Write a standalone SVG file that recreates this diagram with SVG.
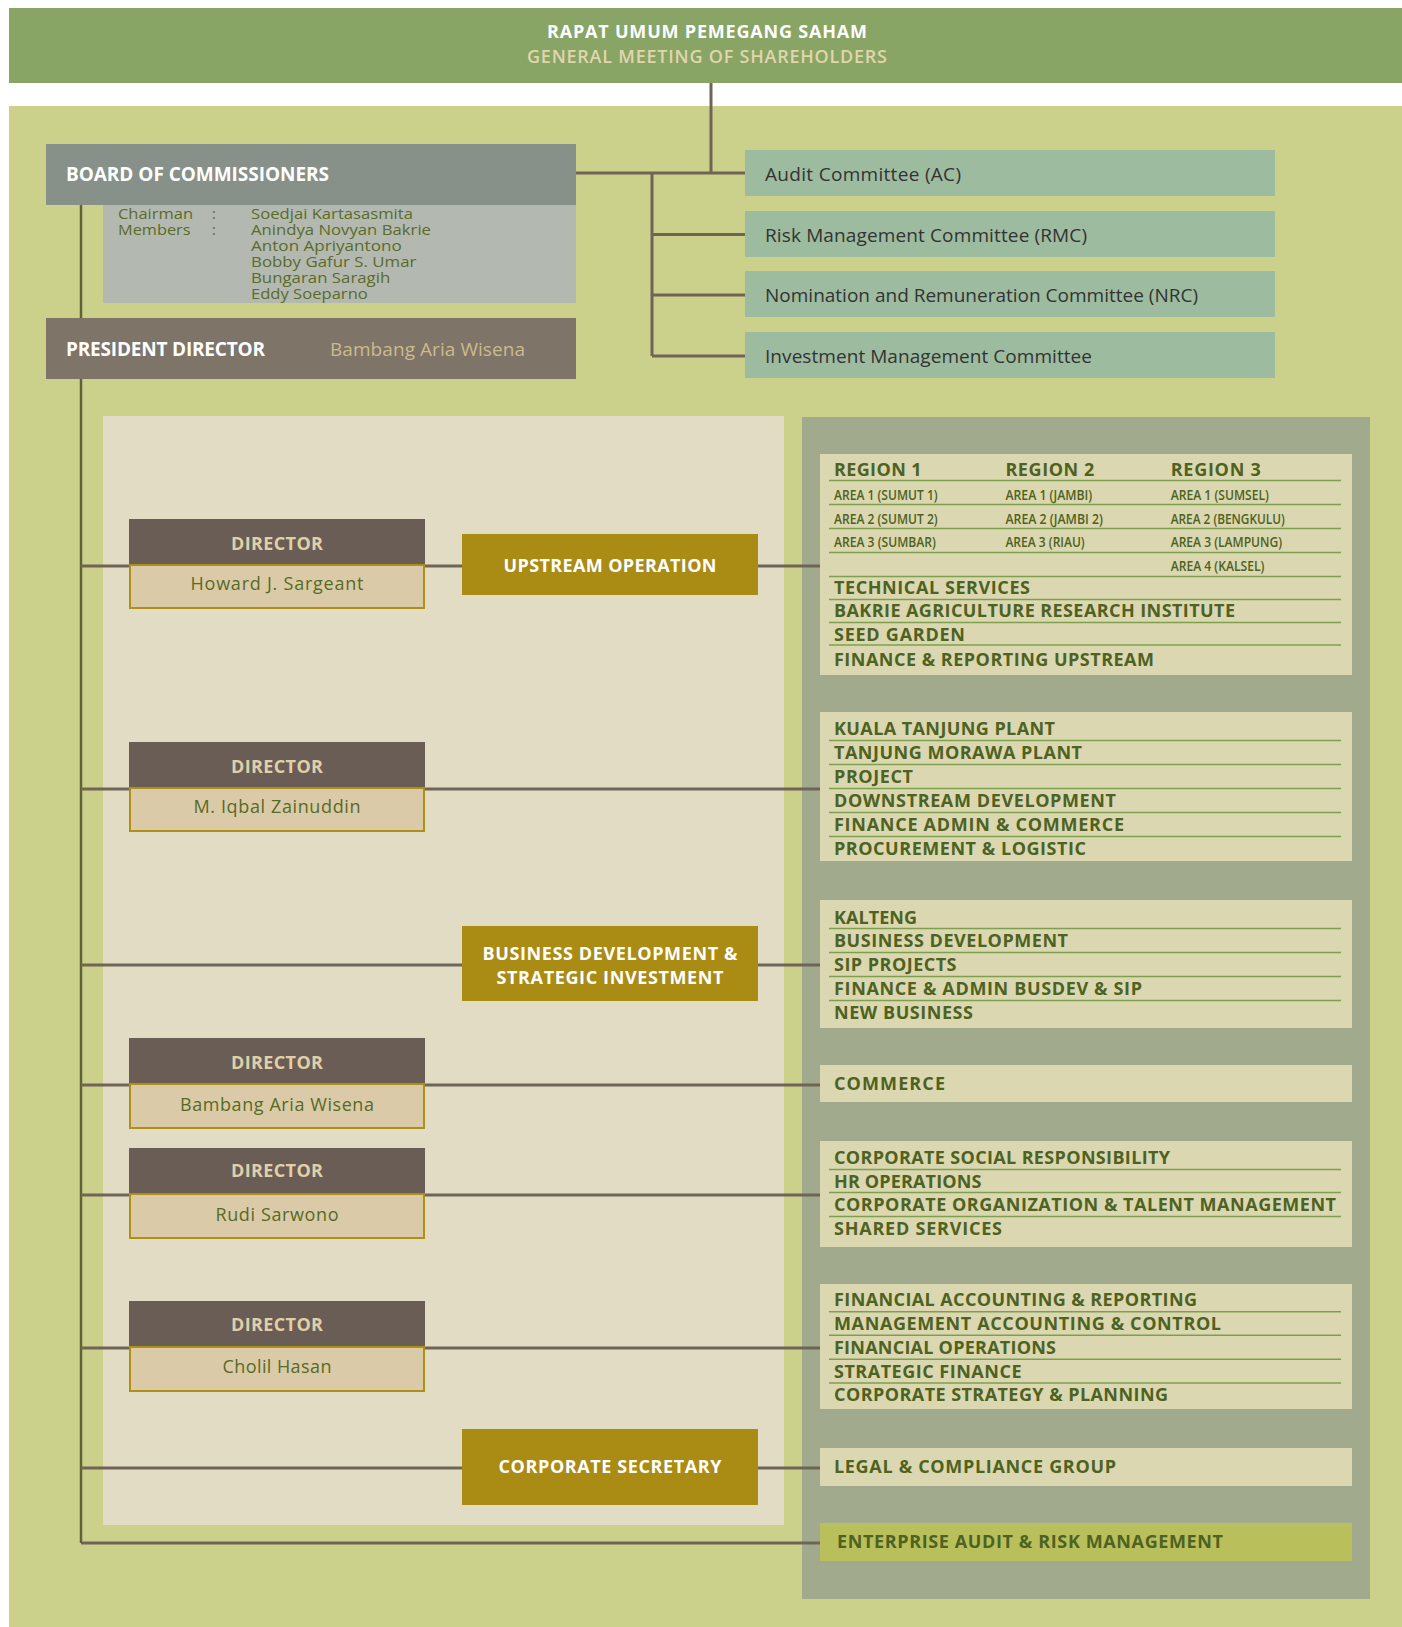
<svg xmlns="http://www.w3.org/2000/svg" width="1402" height="1627" viewBox="0 0 1402 1627">
<style>
text{font-family:"Open Sans","Noto Sans","Liberation Sans",sans-serif}
.w{fill:#ffffff;font-weight:700}
.hd{font-size:18px}
.item{font-size:18px;font-weight:700;fill:#4e6221}
.area{font-size:15px;font-weight:600;fill:#4e6221}
.ibox{fill:#dbd7b1}
.sep{stroke:#7ea04e;stroke-width:1.5}
.com{fill:#9dbb9f}
.comt{font-size:19px;fill:#333333}
.dh{fill:#6a5d56}
.dn{fill:#dbcaa7;stroke:#ae8f17;stroke-width:2}
.dht{font-size:18px;font-weight:700;fill:#e0d0a8;text-anchor:middle}
.dnt{font-size:18px;fill:#566b26;text-anchor:middle}
.gold{fill:#aa8b14}
.gt{font-size:18px;font-weight:700;fill:#ffffff;text-anchor:middle}
.mem{font-size:14.5px;fill:#5b6b28}
.cn{fill:none;stroke:#706459;stroke-width:3}
</style>
<!-- backgrounds -->
<rect x="0" y="0" width="1402" height="1627" fill="#ffffff"/>
<rect x="9" y="106" width="1393" height="1521" fill="#cbd18b"/>
<rect x="103" y="416" width="681" height="1109" fill="#e3dcc5"/>
<rect x="802" y="417" width="568" height="1182" fill="#a1aa8d"/>

<!-- connectors -->
<g id="connectors">
<path class="cn" d="M711,83 V173"/>
<path class="cn" d="M576,173 H745"/>
<path class="cn" d="M652,173 V356 M652,234.5 H745 M652,295 H745 M652,356 H745"/>
<path fill="none" stroke="#5f6438" stroke-width="2.5" d="M81,205 V1543"/>
<path class="cn" d="M81,1543 H820"/>
<path class="cn" d="M81,566 H129 M425,566 H462 M758,566 H820"/>
<path class="cn" d="M81,789 H129 M425,789 H820"/>
<path class="cn" d="M81,965 H462 M758,965 H820"/>
<path class="cn" d="M81,1085 H129 M425,1085 H820"/>
<path class="cn" d="M81,1195 H129 M425,1195 H820"/>
<path class="cn" d="M81,1348 H129 M425,1348 H820"/>
<path class="cn" d="M81,1468 H462 M758,1468 H820"/>
</g>

<!-- GMS -->
<g id="gms">
<rect x="9" y="8" width="1393" height="75" fill="#88a566"/>
<text x="707" y="38" text-anchor="middle" class="w hd" textLength="320" lengthAdjust="spacing">RAPAT UMUM PEMEGANG SAHAM</text>
<text x="707" y="62.5" text-anchor="middle" font-size="18" font-weight="600" fill="#e0d6ac" textLength="360" lengthAdjust="spacing">GENERAL MEETING OF SHAREHOLDERS</text>
</g>

<!-- BoC -->
<g id="boc">
<rect x="46" y="144" width="530" height="61" fill="#879189"/>
<text x="66" y="181" class="w" font-size="19" textLength="263" lengthAdjust="spacing">BOARD OF COMMISSIONERS</text>
<rect x="103" y="205" width="473" height="98" fill="#b3b9b0"/>
<text class="mem" x="118" y="218.7" textLength="75" lengthAdjust="spacingAndGlyphs">Chairman</text>
<text class="mem" x="118" y="234.7" textLength="72.5" lengthAdjust="spacingAndGlyphs">Members</text>
<text class="mem" x="212" y="218.7">:</text>
<text class="mem" x="212" y="234.7">:</text>
<text class="mem" x="251" y="218.7" textLength="162" lengthAdjust="spacingAndGlyphs">Soedjai Kartasasmita</text>
<text class="mem" x="251" y="234.7" textLength="180" lengthAdjust="spacingAndGlyphs">Anindya Novyan Bakrie</text>
<text class="mem" x="251" y="250.7" textLength="150.7" lengthAdjust="spacingAndGlyphs">Anton Apriyantono</text>
<text class="mem" x="251" y="266.7" textLength="165.4" lengthAdjust="spacingAndGlyphs">Bobby Gafur S. Umar</text>
<text class="mem" x="251" y="282.7" textLength="139.3" lengthAdjust="spacingAndGlyphs">Bungaran Saragih</text>
<text class="mem" x="251" y="298.7" textLength="116.8" lengthAdjust="spacingAndGlyphs">Eddy Soeparno</text>
</g>

<!-- President -->
<g id="president">
<rect x="46" y="318" width="530" height="61" fill="#7e7468"/>
<text x="66" y="356" class="w" font-size="19" textLength="199" lengthAdjust="spacing">PRESIDENT DIRECTOR</text>
<text x="330" y="356" font-size="19" fill="#cbbb8c" textLength="195" lengthAdjust="spacing">Bambang Aria Wisena</text>
</g>

<!-- Committees -->
<g id="ac"><rect class="com" x="745" y="150" width="530" height="46"/><text class="comt" x="765" y="180.7" textLength="196" lengthAdjust="spacing">Audit Committee (AC)</text></g>
<g id="rmc"><rect class="com" x="745" y="211" width="530" height="46"/><text class="comt" x="765" y="241.5" textLength="322" lengthAdjust="spacing">Risk Management Committee (RMC)</text></g>
<g id="nrc"><rect class="com" x="745" y="271" width="530" height="46"/><text class="comt" x="765" y="301.7" textLength="433" lengthAdjust="spacing">Nomination and Remuneration Committee (NRC)</text></g>
<g id="imc"><rect class="com" x="745" y="332" width="530" height="46"/><text class="comt" x="765" y="362.5" textLength="327" lengthAdjust="spacing">Investment Management Committee</text></g>

<!-- Directors -->
<g id="dir-howard">
<rect class="dh" x="129" y="519" width="296" height="46"/>
<rect class="dn" x="130" y="565" width="294" height="43"/>
<text class="dht" x="277" y="550" textLength="92" lengthAdjust="spacing">DIRECTOR</text>
<text class="dnt" x="277" y="590" textLength="173" lengthAdjust="spacing">Howard J. Sargeant</text>
</g>
<g id="dir-iqbal">
<rect class="dh" x="129" y="742" width="296" height="46"/>
<rect class="dn" x="130" y="788" width="294" height="43"/>
<text class="dht" x="277" y="773" textLength="92" lengthAdjust="spacing">DIRECTOR</text>
<text class="dnt" x="277" y="813" textLength="167" lengthAdjust="spacing">M. Iqbal Zainuddin</text>
</g>
<g id="dir-bambang">
<rect class="dh" x="129" y="1038" width="296" height="46"/>
<rect class="dn" x="130" y="1084" width="294" height="44"/>
<text class="dht" x="277" y="1069.3" textLength="92" lengthAdjust="spacing">DIRECTOR</text>
<text class="dnt" x="277" y="1111" textLength="194" lengthAdjust="spacing">Bambang Aria Wisena</text>
</g>
<g id="dir-rudi">
<rect class="dh" x="129" y="1148" width="296" height="46"/>
<rect class="dn" x="130" y="1194" width="294" height="44"/>
<text class="dht" x="277" y="1177.3" textLength="92" lengthAdjust="spacing">DIRECTOR</text>
<text class="dnt" x="277" y="1221" textLength="123" lengthAdjust="spacing">Rudi Sarwono</text>
</g>
<g id="dir-cholil">
<rect class="dh" x="129" y="1301" width="296" height="46"/>
<rect class="dn" x="130" y="1347" width="294" height="44"/>
<text class="dht" x="277" y="1331" textLength="92" lengthAdjust="spacing">DIRECTOR</text>
<text class="dnt" x="277" y="1372.7" textLength="109" lengthAdjust="spacing">Cholil Hasan</text>
</g>

<!-- Gold units -->
<g id="upstream"><rect class="gold" x="462" y="534" width="296" height="61"/><text class="gt" x="610" y="571.7" textLength="213" lengthAdjust="spacing">UPSTREAM OPERATION</text></g>
<g id="bizdev"><rect class="gold" x="462" y="926" width="296" height="75"/>
<text class="gt" x="610" y="960" textLength="255" lengthAdjust="spacing">BUSINESS DEVELOPMENT &amp;</text>
<text class="gt" x="610" y="984" textLength="227" lengthAdjust="spacing">STRATEGIC INVESTMENT</text></g>
<g id="corpsec"><rect class="gold" x="462" y="1429" width="296" height="76"/><text class="gt" x="610" y="1473.3" textLength="223" lengthAdjust="spacing">CORPORATE SECRETARY</text></g>

<!-- Box 1: Upstream units -->
<g id="upstream-units">
<rect class="ibox" x="820" y="454" width="532" height="221"/>
<text class="item" x="834" y="475.7" textLength="87.5" lengthAdjust="spacing">REGION 1</text>
<text class="item" x="1005.4" y="475.7" textLength="89" lengthAdjust="spacing">REGION 2</text>
<text class="item" x="1170.7" y="475.7" textLength="90" lengthAdjust="spacing">REGION 3</text>
<line class="sep" x1="829" y1="480.5" x2="1341" y2="480.5"/>
<text class="area" x="834" y="499.5" textLength="103.6" lengthAdjust="spacingAndGlyphs">AREA 1 (SUMUT 1)</text>
<text class="area" x="1005.4" y="499.5" textLength="86.8" lengthAdjust="spacingAndGlyphs">AREA 1 (JAMBI)</text>
<text class="area" x="1170.7" y="499.5" textLength="98.2" lengthAdjust="spacingAndGlyphs">AREA 1 (SUMSEL)</text>
<line class="sep" x1="829" y1="504.5" x2="1341" y2="504.5"/>
<text class="area" x="834" y="523.5" textLength="103.6" lengthAdjust="spacingAndGlyphs">AREA 2 (SUMUT 2)</text>
<text class="area" x="1005.4" y="523.5" textLength="97.5" lengthAdjust="spacingAndGlyphs">AREA 2 (JAMBI 2)</text>
<text class="area" x="1170.7" y="523.5" textLength="114" lengthAdjust="spacingAndGlyphs">AREA 2 (BENGKULU)</text>
<line class="sep" x1="829" y1="528.5" x2="1341" y2="528.5"/>
<text class="area" x="834" y="547" textLength="101.8" lengthAdjust="spacingAndGlyphs">AREA 3 (SUMBAR)</text>
<text class="area" x="1005.4" y="547" textLength="79.3" lengthAdjust="spacingAndGlyphs">AREA 3 (RIAU)</text>
<text class="area" x="1170.7" y="547" textLength="111.4" lengthAdjust="spacingAndGlyphs">AREA 3 (LAMPUNG)</text>
<line class="sep" x1="829" y1="552.5" x2="1341" y2="552.5"/>
<text class="area" x="1170.7" y="571" textLength="93.6" lengthAdjust="spacingAndGlyphs">AREA 4 (KALSEL)</text>
<line class="sep" x1="829" y1="576.5" x2="1341" y2="576.5"/>
<text class="item" x="834" y="593.5" textLength="196" lengthAdjust="spacing">TECHNICAL SERVICES</text>
<line class="sep" x1="829" y1="599.5" x2="1341" y2="599.5"/>
<text class="item" x="834" y="617" textLength="401" lengthAdjust="spacing">BAKRIE AGRICULTURE RESEARCH INSTITUTE</text>
<line class="sep" x1="829" y1="622.5" x2="1341" y2="622.5"/>
<text class="item" x="834" y="641" textLength="131" lengthAdjust="spacing">SEED GARDEN</text>
<line class="sep" x1="829" y1="645" x2="1341" y2="645"/>
<text class="item" x="834" y="665.7" textLength="320" lengthAdjust="spacing">FINANCE &amp; REPORTING UPSTREAM</text>
</g>

<!-- Box 2 -->
<g id="downstream-units">
<rect class="ibox" x="820" y="712" width="532" height="149"/>
<text class="item" x="834" y="735" textLength="221" lengthAdjust="spacing">KUALA TANJUNG PLANT</text>
<line class="sep" x1="829" y1="740.5" x2="1341" y2="740.5"/>
<text class="item" x="834" y="759" textLength="248" lengthAdjust="spacing">TANJUNG MORAWA PLANT</text>
<line class="sep" x1="829" y1="764.5" x2="1341" y2="764.5"/>
<text class="item" x="834" y="783" textLength="79" lengthAdjust="spacing">PROJECT</text>
<line class="sep" x1="829" y1="788.5" x2="1341" y2="788.5"/>
<text class="item" x="834" y="807" textLength="282" lengthAdjust="spacing">DOWNSTREAM DEVELOPMENT</text>
<line class="sep" x1="829" y1="812.5" x2="1341" y2="812.5"/>
<text class="item" x="834" y="831" textLength="290" lengthAdjust="spacing">FINANCE ADMIN &amp; COMMERCE</text>
<line class="sep" x1="829" y1="836.5" x2="1341" y2="836.5"/>
<text class="item" x="834" y="854.5" textLength="252" lengthAdjust="spacing">PROCUREMENT &amp; LOGISTIC</text>
</g>

<!-- Box 3 -->
<g id="busdev-units">
<rect class="ibox" x="820" y="900" width="532" height="128"/>
<text class="item" x="834" y="923.5" textLength="83" lengthAdjust="spacing">KALTENG</text>
<line class="sep" x1="829" y1="928.5" x2="1341" y2="928.5"/>
<text class="item" x="834" y="947" textLength="234" lengthAdjust="spacing">BUSINESS DEVELOPMENT</text>
<line class="sep" x1="829" y1="952.5" x2="1341" y2="952.5"/>
<text class="item" x="834" y="971" textLength="122.5" lengthAdjust="spacing">SIP PROJECTS</text>
<line class="sep" x1="829" y1="976.5" x2="1341" y2="976.5"/>
<text class="item" x="834" y="995" textLength="308" lengthAdjust="spacing">FINANCE &amp; ADMIN BUSDEV &amp; SIP</text>
<line class="sep" x1="829" y1="1000.5" x2="1341" y2="1000.5"/>
<text class="item" x="834" y="1018.5" textLength="139" lengthAdjust="spacing">NEW BUSINESS</text>
</g>

<!-- Box 4 -->
<g id="commerce">
<rect class="ibox" x="820" y="1065" width="532" height="37"/>
<text class="item" x="834" y="1090" textLength="111" lengthAdjust="spacing">COMMERCE</text>
</g>

<!-- Box 5 -->
<g id="hr-units">
<rect class="ibox" x="820" y="1141" width="532" height="106"/>
<text class="item" x="834" y="1163.5" textLength="336" lengthAdjust="spacing">CORPORATE SOCIAL RESPONSIBILITY</text>
<line class="sep" x1="829" y1="1169.5" x2="1341" y2="1169.5"/>
<text class="item" x="834" y="1187.5" textLength="147.5" lengthAdjust="spacing">HR OPERATIONS</text>
<line class="sep" x1="829" y1="1192.5" x2="1341" y2="1192.5"/>
<text class="item" x="834" y="1211" textLength="502" lengthAdjust="spacing">CORPORATE ORGANIZATION &amp; TALENT MANAGEMENT</text>
<line class="sep" x1="829" y1="1216.5" x2="1341" y2="1216.5"/>
<text class="item" x="834" y="1235" textLength="168" lengthAdjust="spacing">SHARED SERVICES</text>
</g>

<!-- Box 6 -->
<g id="finance-units">
<rect class="ibox" x="820" y="1284" width="532" height="125"/>
<text class="item" x="834" y="1306" textLength="363" lengthAdjust="spacing">FINANCIAL ACCOUNTING &amp; REPORTING</text>
<line class="sep" x1="829" y1="1311.7" x2="1341" y2="1311.7"/>
<text class="item" x="834" y="1330" textLength="387" lengthAdjust="spacing">MANAGEMENT ACCOUNTING &amp; CONTROL</text>
<line class="sep" x1="829" y1="1335.3" x2="1341" y2="1335.3"/>
<text class="item" x="834" y="1354.3" textLength="222" lengthAdjust="spacing">FINANCIAL OPERATIONS</text>
<line class="sep" x1="829" y1="1359.3" x2="1341" y2="1359.3"/>
<text class="item" x="834" y="1377.5" textLength="187.5" lengthAdjust="spacing">STRATEGIC FINANCE</text>
<line class="sep" x1="829" y1="1383" x2="1341" y2="1383"/>
<text class="item" x="834" y="1401" textLength="334" lengthAdjust="spacing">CORPORATE STRATEGY &amp; PLANNING</text>
</g>

<!-- Box 7 -->
<g id="legal">
<rect class="ibox" x="820" y="1448" width="532" height="38"/>
<text class="item" x="834" y="1473.3" textLength="282" lengthAdjust="spacing">LEGAL &amp; COMPLIANCE GROUP</text>
</g>

<!-- Box 8 -->
<g id="earm">
<rect x="820" y="1523" width="532" height="38" fill="#b8bf5b"/>
<text class="item" x="837" y="1548.3" textLength="386" lengthAdjust="spacing">ENTERPRISE AUDIT &amp; RISK MANAGEMENT</text>
</g>
</svg>
